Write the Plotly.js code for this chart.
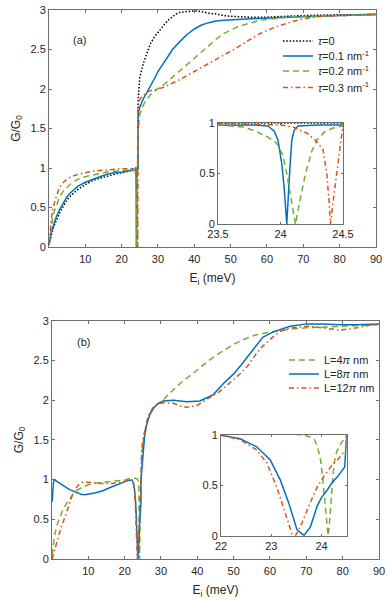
<!DOCTYPE html>
<html>
<head>
<meta charset="utf-8">
<script src="https://cdn.plot.ly/plotly-3.0.1.min.js"></script>
<style>body { margin: 0; background: #fff; }</style>
</head>
<body>
<div id="chart" style="width:390px;height:600px"></div>
<script>
// Panel (a): conductance for several tau values
let eTau0 = [0.05, 0.5, 1, 1.5, 2, 3, 4, 5, 6, 8,
  10, 12, 14, 16, 18, 20, 22, 23.5, 24, 24.3,
  24.5, 24.52, 24.8, 25, 26, 27, 28, 29, 30, 31,
  32, 33, 34, 35, 36, 38, 40, 42, 44, 46,
  48, 50, 55, 60, 65, 70, 80, 90];
let gTau0 = [0.03, 0.14, 0.22, 0.28, 0.34, 0.44, 0.52, 0.60, 0.65, 0.73,
  0.79, 0.84, 0.87, 0.90, 0.92, 0.94, 0.96, 1.0, 1.0, 1.0,
  1.0, 1.85, 2.05, 2.15, 2.33, 2.47, 2.58, 2.66, 2.72, 2.78,
  2.83, 2.88, 2.92, 2.95, 2.97, 2.98, 2.99, 2.98, 2.96, 2.95,
  2.93, 2.92, 2.91, 2.91, 2.92, 2.93, 2.94, 2.94];

let eTau1 = [0.05, 0.5, 1, 1.5, 2, 3, 4, 5, 6, 8,
  10, 12, 14, 16, 18, 20, 22, 23, 23.5, 23.8,
  23.9, 23.95, 23.98, 24.01, 24.03, 24.05, 24.07, 24.09, 24.11, 24.14,
  24.3, 24.5, 24.52, 24.7, 25, 25.5, 26, 27, 28, 29,
  30, 32, 34, 36, 38, 40, 42, 44, 46, 48,
  55, 65, 75, 90];
let gTau1 = [0.03, 0.16, 0.24, 0.31, 0.38, 0.48, 0.56, 0.64, 0.69, 0.77,
  0.82, 0.86, 0.89, 0.92, 0.94, 0.95, 0.96, 0.97, 0.98, 0.98,
  0.97, 0.92, 0.83, 0.60, 0.35, 0, 0.45, 0.83, 0.93, 0.97,
  0.98, 0.98, 1.60, 1.72, 1.77, 1.83, 1.88, 1.96, 2.04, 2.13,
  2.22, 2.36, 2.50, 2.60, 2.69, 2.76, 2.81, 2.84, 2.86, 2.87,
  2.89, 2.91, 2.92, 2.95];

let eTau2 = [0.05, 0.5, 1, 1.5, 2, 3, 4, 5, 6, 8,
  10, 12, 14, 16, 18, 20, 22, 23.5, 23.6, 23.7,
  23.8, 23.9, 23.97, 24.02, 24.05, 24.09, 24.12, 24.15, 24.2, 24.25,
  24.29, 24.35, 24.42, 24.5, 24.52, 25, 26, 27, 28, 29,
  30, 32, 34, 36, 38, 40, 42, 44, 46, 48,
  50, 52, 55, 58, 62, 66, 70, 80, 90];
let gTau2 = [0.04, 0.24, 0.37, 0.46, 0.53, 0.64, 0.71, 0.76, 0.80, 0.86,
  0.89, 0.91, 0.93, 0.95, 0.96, 0.97, 0.98, 0.98, 0.97, 0.96,
  0.92, 0.86, 0.80, 0.68, 0.50, 0.22, 0, 0.20, 0.50, 0.72,
  0.83, 0.91, 0.95, 0.97, 1.45, 1.68, 1.80, 1.87, 1.93, 1.97,
  2.00, 2.07, 2.15, 2.23, 2.31, 2.40, 2.48, 2.56, 2.63, 2.70,
  2.75, 2.79, 2.83, 2.87, 2.89, 2.91, 2.92, 2.93, 2.94];

let eTau3 = [0.05, 0.3, 0.6, 1, 1.5, 2, 3, 4, 5, 6,
  8, 10, 12, 14, 17, 20, 23, 23.5, 24.0, 24.1,
  24.21, 24.28, 24.34, 24.37, 24.39, 24.40, 24.42, 24.45, 24.48, 24.5,
  24.52, 25, 26, 27, 28, 30, 32, 34, 36, 38,
  40, 42, 44, 46, 48, 52, 55, 58, 62, 66,
  70, 75, 80, 90];
let gTau3 = [0.05, 0.22, 0.34, 0.47, 0.56, 0.64, 0.76, 0.82, 0.86, 0.89,
  0.92, 0.94, 0.96, 0.97, 0.98, 0.99, 0.99, 0.995, 0.98, 0.96,
  0.90, 0.83, 0.74, 0.50, 0.20, 0, 0.22, 0.50, 0.78, 0.98,
  1.75, 1.87, 1.92, 1.96, 1.98, 2.00, 2.03, 2.07, 2.12, 2.17,
  2.22, 2.28, 2.33, 2.38, 2.42, 2.53, 2.62, 2.70, 2.78, 2.84,
  2.89, 2.92, 2.93, 2.94];

// Panel (b): conductance for several lengths L
let eL4 = [0.05, 0.5, 0.8, 1.5, 2.2, 3, 4, 5, 6, 7,
  8.6, 10, 12, 14, 16, 18, 20, 22, 23.4, 23.7,
  23.85, 23.92, 23.98, 24.02, 24.05, 24.1, 24.13, 24.15, 24.18, 24.22,
  24.25, 24.3, 24.38, 24.45, 24.5, 24.7, 25, 25.6, 26.5, 27.9,
  29, 30.6, 32, 34.3, 36, 38.9, 41, 43.5, 46, 48,
  50, 52, 54, 56, 58, 61, 65, 70, 75, 80, 85, 90];
let gL4 = [0.05, 0.22, 0.32, 0.44, 0.53, 0.62, 0.70, 0.77, 0.83, 0.87,
  0.91, 0.935, 0.955, 0.965, 0.975, 0.985, 0.995, 1.02, 1.01, 0.99,
  0.96, 0.88, 0.75, 0.58, 0.42, 0.15, 0, 0.08, 0.32, 0.55,
  0.72, 0.83, 0.91, 0.96, 0.99, 1.33, 1.45, 1.62, 1.78, 1.90,
  1.95, 2.00, 2.07, 2.17, 2.24, 2.34, 2.42, 2.51, 2.59, 2.65,
  2.70, 2.75, 2.79, 2.82, 2.84, 2.86, 2.89, 2.91, 2.92, 2.93, 2.94, 2.95];

let eL8 = [0.05, 0.2, 0.4, 0.6, 0.8, 1.2, 2, 3, 4, 5,
  6, 7, 8, 9, 10, 11, 12, 14, 16, 18,
  19, 20, 21, 22, 22.38, 22.71, 22.98, 23.18, 23.35, 23.51,
  23.65, 23.78, 23.91, 24.0, 24.11, 24.2, 24.31, 24.46, 24.5, 24.8,
  25.1, 25.5, 26, 26.5, 27, 28, 29, 30.6, 33.4, 37.1,
  40.7, 42.6, 44.4, 47.2, 50, 52, 54, 56.3, 58, 60.9,
  65.5, 70.1, 74.7, 79.3, 84, 90];
let gL8 = [0.72, 0.86, 0.96, 1.0, 1.0, 0.98, 0.96, 0.93, 0.90, 0.87,
  0.85, 0.83, 0.815, 0.81, 0.815, 0.825, 0.835, 0.86, 0.90, 0.94,
  0.96, 0.98, 0.99, 0.995, 0.96, 0.88, 0.75, 0.55, 0.32, 0.06,
  0, 0.09, 0.29, 0.38, 0.45, 0.52, 0.58, 0.68, 1.0, 1.2,
  1.37, 1.55, 1.68, 1.76, 1.83, 1.90, 1.95, 1.99, 2.00, 1.98,
  1.99, 2.03, 2.07, 2.21, 2.33, 2.44, 2.56, 2.70, 2.79, 2.86,
  2.93, 2.96, 2.96, 2.95, 2.95, 2.96];

let eL12 = [0.05, 0.5, 1, 1.7, 2.5, 3.6, 4.5, 5.4, 6.3, 7.2,
  8, 8.6, 10, 12, 14, 16, 18, 20, 21, 22,
  22.38, 22.71, 22.91, 23.11, 23.28, 23.41, 23.48, 23.58, 23.71, 23.91,
  24.05, 24.18, 24.35, 24.48, 24.5, 24.7, 25, 25.6, 26.5, 27.9,
  29, 30.6, 33.4, 35, 37, 39.8, 42, 44, 46.2, 48,
  50, 52, 54, 56.3, 58, 60.9, 63, 65.5, 70.1, 74.7,
  79.3, 83.9, 87, 90];
let gL12 = [0, 0.08, 0.16, 0.28, 0.40, 0.53, 0.66, 0.78, 0.87, 0.93,
  0.96, 0.97, 0.965, 0.955, 0.95, 0.95, 0.96, 0.98, 0.99, 0.995,
  0.95, 0.85, 0.72, 0.48, 0.22, 0.02, 0, 0.09, 0.25, 0.48,
  0.59, 0.68, 0.77, 0.85, 1.0, 1.37, 1.50, 1.64, 1.81, 1.91,
  1.95, 1.97, 1.96, 1.93, 1.91, 1.93, 1.99, 2.04, 2.11, 2.18,
  2.26, 2.34, 2.44, 2.59, 2.68, 2.80, 2.87, 2.91, 2.93, 2.91,
  2.88, 2.91, 2.94, 2.96];

// tick values
let mainXTicks = [10, 20, 30, 40, 50, 60, 70, 80, 90];
let mainYTicks = [0, 0.5, 1, 1.5, 2, 2.5, 3];
let insetYTicks = [0, 0.5, 1];
let insetXTicksA = [23.5, 24, 24.5];
let insetXTicksB = [22, 23, 24];

const blue = '#0072BD';
const green = '#77AC30';
const orange = '#D95319';
const fontFamily = 'Liberation Sans, Arial, sans-serif';

// same line styles as MATLAB
const dotted = {color: '#000000', width: 1.5, dash: '1.5px,1.8px'};
const solid = {color: blue, width: 1.5};
const dashed = {color: green, width: 1.5, dash: '6px,4px'};
const dashdot = {color: orange, width: 1.5, dash: '5px,3px,1.5px,3px'};

function line(x, y, style, name, xa, ya, legend) {
  return {
    x: x, y: y, type: 'scatter', mode: 'lines', line: style, name: name,
    xaxis: xa, yaxis: ya, showlegend: name !== null, legend: legend,
    hoverinfo: 'skip'
  };
}

let data = [];
// one legend box per entry so each row sits where the reference has it
let seriesA = [
  [eTau0, gTau0, dotted, '<i>τ</i>=0', 'legend'],
  [eTau1, gTau1, solid, '<i>τ</i>=0.1 nm<sup>-1</sup>', 'legend2'],
  [eTau2, gTau2, dashed, '<i>τ</i>=0.2 nm<sup>-1</sup>', 'legend3'],
  [eTau3, gTau3, dashdot, '<i>τ</i>=0.3 nm<sup>-1</sup>', 'legend4']
];
seriesA.forEach(s => data.push(line(s[0], s[1], s[2], s[3], 'x', 'y', s[4])));
seriesA.forEach(s => data.push(line(s[0], s[1], s[2], null, 'x2', 'y2', s[4])));

let seriesB = [
  [eL4, gL4, dashed, 'L=4<i>π</i> nm', 'legend5'],
  [eL8, gL8, solid, 'L=8<i>π</i> nm', 'legend6'],
  [eL12, gL12, dashdot, 'L=12<i>π</i> nm', 'legend7']
];
seriesB.forEach(s => data.push(line(s[0], s[1], s[2], s[3], 'x3', 'y3', s[4])));
seriesB.forEach(s => data.push(line(s[0], s[1], s[2], null, 'x4', 'y4', s[4])));

const axisBase = {
  showline: true, mirror: 'ticks', linecolor: '#6e6e6e', linewidth: 1,
  ticks: 'inside', ticklen: 3, tickwidth: 1, tickcolor: '#6e6e6e',
  showgrid: false, zeroline: false, fixedrange: true,
  tickfont: {family: fontFamily, size: 11, color: '#262626'}
};
function axis(opts) {
  return Object.assign({}, axisBase, opts);
}
const xTitle = {text: 'E<sub>i</sub> (meV)', font: {size: 12, color: '#262626'}, standoff: 9};
const yTitle = {text: 'G/G<sub>0</sub>', font: {size: 12, color: '#262626'}, standoff: 7};

function legendAt(x, y) {
  return {
    x: x, y: y, xanchor: 'left', yanchor: 'middle', bgcolor: 'rgba(0,0,0,0)', borderwidth: 0,
    font: {family: fontFamily, size: 11, color: '#262626'}, itemwidth: 30
  };
}

let layout = {
  width: 390, height: 600,
  margin: {l: 0, r: 0, t: 0, b: 0},
  paper_bgcolor: '#ffffff', plot_bgcolor: 'rgba(0,0,0,0)',
  font: {family: fontFamily, size: 11, color: '#262626'},
  xaxis: axis({domain: [0.1256, 0.9641], range: [0, 90], tickvals: mainXTicks, anchor: 'y', title: xTitle, ticklabelstandoff: 2}),
  yaxis: axis({domain: [0.5883, 0.9833], range: [0, 3], tickvals: mainYTicks, anchor: 'x', title: yTitle}),
  xaxis2: axis({domain: [0.559, 0.8795], range: [23.5, 24.5], tickvals: insetXTicksA, anchor: 'y2', ticklen: 2}),
  yaxis2: axis({domain: [0.6262, 0.795], range: [0, 1], tickvals: insetYTicks, anchor: 'x2', ticklen: 2}),
  xaxis3: axis({domain: [0.1333, 0.9718], range: [0, 90], tickvals: mainXTicks, anchor: 'y3', title: xTitle, ticklabelstandoff: 2}),
  yaxis3: axis({domain: [0.0683, 0.4655], range: [0, 3], tickvals: mainYTicks, anchor: 'x3', title: yTitle}),
  xaxis4: axis({domain: [0.5667, 0.889], range: [22, 24.5], tickvals: insetXTicksB, anchor: 'y4', ticklen: 2}),
  yaxis4: axis({domain: [0.1072, 0.2755], range: [0, 1], tickvals: insetYTicks, anchor: 'x4', ticklen: 2}),
  legend: legendAt(0.7128, 0.9317),
  legend2: legendAt(0.7128, 0.9067),
  legend3: legendAt(0.7128, 0.8817),
  legend4: legendAt(0.7128, 0.8542),
  legend5: legendAt(0.728, 0.4),
  legend6: legendAt(0.728, 0.3767),
  legend7: legendAt(0.728, 0.3533),
  annotations: [
    {text: '(a)', xref: 'paper', yref: 'paper', x: 0.1833, y: 0.9472, showarrow: false, font: {size: 11}},
    {text: '(b)', xref: 'paper', yref: 'paper', x: 0.1923, y: 0.4295, showarrow: false, font: {size: 11}}
  ]
};

Plotly.newPlot('chart', data, layout, {displayModeBar: false, staticPlot: true});
</script>
</body>
</html>
